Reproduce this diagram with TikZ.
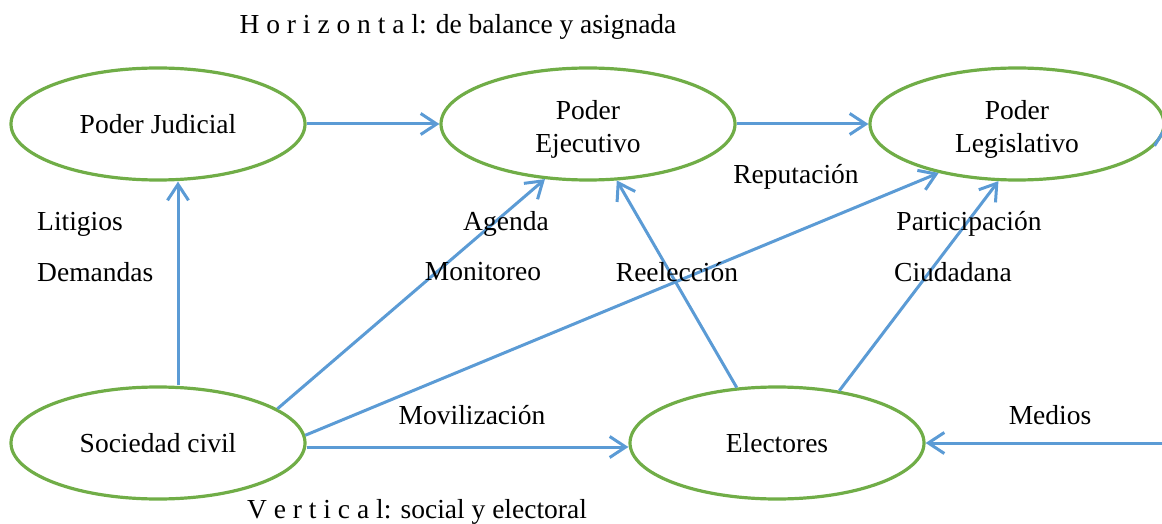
\documentclass[tikz,border=0pt]{standalone}
\usepackage{fontspec}
\setmainfont{Liberation Serif}
\usetikzlibrary{shapes.geometric,arrows.meta}
\definecolor{arrblue}{HTML}{5B9BD5}
\definecolor{ellgreen}{HTML}{70AD47}
\begin{document}
\begin{tikzpicture}[x=1pt,y=-1pt,
  every node/.style={font=\fontsize{27.5}{33}\selectfont},
  actor/.style={ellipse,draw=ellgreen,line width=3.2pt,minimum width=294pt,minimum height=112pt,inner sep=0pt,align=center},
  conn/.style={draw=arrblue,line width=3pt,-{Straight Barb[length=16pt,width=21pt]}},
  plain/.style={draw=arrblue,line width=3pt},
  lbl/.style={inner sep=0pt}]
\useasboundingbox (0,0) rectangle (1162,524);
\clip (0,0) rectangle (1162,524);
% nodes
\node[actor] (jud) at (158,124) {Poder Judicial};
\node[actor] (eje) at (588,124) {\rule{0pt}{29pt}Poder\\Ejecutivo};
\node[actor] (leg) at (1017,124) {\rule{0pt}{29pt}Poder\\Legislativo};
\node[actor] (soc) at (158,443) {Sociedad civil};
\node[actor] (ele) at (777,443) {Electores};
\coordinate (medsrc) at (1175,443);
\coordinate (legout) at (1175,112);
% connectors
\draw[conn] (jud) -- (eje);
\draw[conn] (eje) -- (leg);
\draw[conn] ([xshift=20pt]soc.north) -- ([xshift=20pt]jud.south);
\draw[conn] (soc.16) -- (eje.232);
\draw[conn] (soc.3) -- (leg.212);
\draw[conn] ([yshift=-4pt]soc.east) -- ([yshift=-4pt]ele.west);
\draw[conn] (ele.126) -- (eje.297);
\draw[conn] (ele.40) -- (leg.252);
\draw[conn] (medsrc) -- (ele.east);
\draw[plain] (leg.-9) -- (legout);
% labels
\node[lbl] (t1) at (458,27) {H o r i z o n t a l: de balance y asignada};
\node[lbl] (t2) at (417,512) {V e r t i c a l: social y electoral};
\node[lbl,anchor=west] (l1) at (37,224) {Litigios};
\node[lbl,anchor=west] (l2) at (37,272) {Demandas};
\node[lbl] (l3) at (506,224) {Agenda};
\node[lbl] (l4) at (483,272) {Monitoreo};
\node[lbl] (l5) at (677,272) {Reelección};
\node[lbl] (l6) at (796,177) {Reputación};
\node[lbl] (l7) at (969,224) {Participación};
\node[lbl] (l8) at (953,272) {Ciudadana};
\node[lbl] (l9) at (472,415) {Movilización};
\node[lbl] (l10) at (1050,415) {Medios};
\end{tikzpicture}
\end{document}
